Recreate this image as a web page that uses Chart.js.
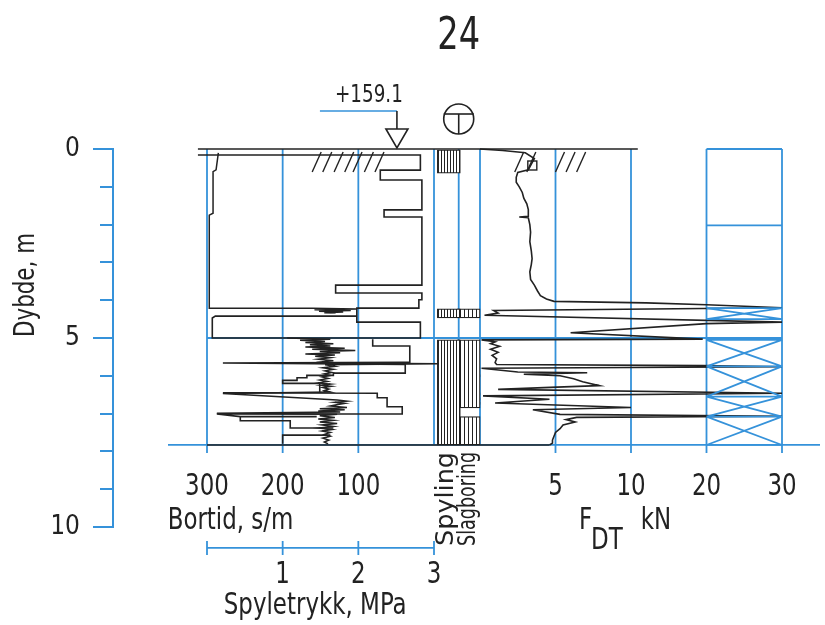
<!DOCTYPE html>
<html>
<head>
<meta charset="utf-8">
<script src="https://cdn.jsdelivr.net/npm/chart.js@4.4.0/dist/chart.umd.min.js"></script>
<style>
  html, body { margin: 0; padding: 0; background: #fff; }
  #wrap { width: 825px; height: 625px; }
</style>
</head>
<body>
<div id="wrap"><canvas id="log" width="825" height="625"></canvas></div>
<script>
const boreDepth = 7.83;          // m, end of sounding
const waterLevel = '+159.1';
const pageNo = '24';

// drilling time, s/m (null = pen up)
const bortidDepth = [0.16,0.16,0.56,0.56,0.82,0.82,1.61,1.61,1.80,1.80,3.60,3.60,3.81,3.81,3.99,3.99,4.21,4.21,4.42,4.58,4.58,5.00,5.00,4.47,4.42,4.42, null,
  5.03,5.21,5.21,5.64,5.64,5.66,5.70,5.93,5.93,5.99,5.99,6.05,6.05,6.12,6.12,6.20,6.20,6.44,6.45,6.46,6.58,6.58,6.82,6.82,7.01,7.01,7.08,7.08, null,
  7.08,7.19,7.19,7.38,7.38, null,
  7.57,7.57,7.80];
const bortidValue = [312,18,18,71,71,16,16,66,66,16,16,130,130,16,16,20,20,102,102,102,18,18,293,293,289,102, null,
  81,81,32,32,41,279,38,38,133,133,168,168,181,181,200,200,151,151,279,75,75,62,62,42,42,287,256,155, null,
  256,256,190,190,133, null,
  137,200,200];

// flushing pressure, MPa
const spyleDepth = [0.10,0.55,0.60,1.70,1.75,4.21,4.21,4.23,4.25,4.27,4.29,4.31,4.33,4.34, null,
  5.00,5.03,5.06,5.09,5.12,5.15,5.18,5.21,5.24,5.27,5.30,5.33,5.36,5.39,5.42,5.45,5.48,5.52,5.56,5.60,
  5.63,5.66,5.68,5.71,5.75,5.79,5.83,5.87,5.91,5.95,5.99,6.03,6.07,6.11,6.15,6.19,6.22,6.25,6.28,6.31,
  6.35,6.39,6.43,6.47,6.64,6.67,6.70,6.73,6.76,6.80,6.84,6.87,6.90,6.93,6.96,6.99,7.02,7.06,7.10,7.14,
  7.18,7.22,7.26,7.30,7.34,7.38,7.42,7.46,7.50,7.55,7.60,7.65,7.70,7.75,7.80];
const spyleValue = [0.15,0.12,0.08,0.08,0.03,0.03,1.39,1.98,1.42,1.90,1.48,1.80,1.55,1.70, null,
  1.06,1.63,1.23,1.56,1.30,1.67,1.36,1.63,1.30,1.82,1.39,1.96,1.49,1.76,1.30,1.69,1.43,1.63,1.47,1.67,
  1.52,1.63,3.08,1.56,1.69,1.53,1.67,1.56,1.65,1.55,1.63,1.52,1.60,1.49,1.59,1.47,1.63,1.51,1.64,1.53,
  1.61,1.55,1.63,0.21,1.72,1.85,1.69,1.82,1.73,1.63,1.85,1.49,1.82,1.47,1.76,0.13,1.72,1.49,1.69,1.47,
  1.67,1.49,1.72,1.52,1.67,1.48,1.65,1.52,1.63,1.55,1.63,1.53,1.61,1.55,1.60];

// total penetration force F_DT, kN
const fdtDepth = [0,0.04,0.10,0.25,0.40,0.55,0.62,0.75,0.88,1.00,1.15,1.30,1.45,1.60,1.78,1.80,1.82,2.00,2.20,2.45,
  2.70,2.90,3.05,3.25,3.45,3.60,3.75,3.88,3.97,4.03,4.07,4.12,4.20,4.27,4.34,4.40,4.58,4.62,4.86,5.03,
  5.05,5.10,5.15,5.22,5.30,5.38,5.46,5.55,5.65,5.70,5.73,5.76,5.80,5.90,5.92,5.96,6.00,6.08,6.16,6.26,
  6.30,6.36,6.46,6.53,6.62,6.72,6.84,6.90,7.02,7.07,7.10,7.16,7.22,7.30,7.40,7.50,7.60,7.70,7.78,7.83];
const fdtForce = [0,1.5,3.0,3.6,3.4,3.2,2.5,2.4,2.4,2.6,2.8,2.9,3.1,3.2,3.2,2.6,3.2,3.3,3.35,3.3,
  3.4,3.45,3.4,3.3,3.35,3.6,3.8,4.0,4.4,4.9,12,20,30,0.9,1.2,0.3,30,20,6.0,19.5,
  0.1,1.0,0.7,1.3,0.7,1.2,0.8,1.1,1.0,1.1,19.5,30,0.1,2.5,7.1,2.9,5.3,6.2,6.8,7.9,
  5.1,1.2,30,0.2,4.6,1.0,10,3.5,5.3,30,6.4,5.7,6.3,5.5,5.3,5.0,4.9,4.8,4.8,4.6];

// flushing / hammering intervals, m
const spylingFrom = [0, 4.23, 5.05];
const spylingTo   = [0.64, 4.47, 7.83];
const slagFrom = [4.23, 5.05, 7.08];
const slagTo   = [4.47, 6.85, 7.83];
const slagBandFrom = [5.78, 5.97, 6.45, 6.58, 6.70];
const slagBandTo   = [5.81, 6.03, 6.51, 6.64, 6.76];

// right-hand column: dividing lines and crossed intervals, m
const boxLines = [0, 2.02, 4.21, 4.50, 5.05, 5.75, 6.55, 7.08, 7.83];
const crossFrom = [4.21, 5.05, 5.75, 6.55, 7.08];
const crossTo   = [4.50, 5.75, 6.55, 7.08, 7.83];

// axis ticks
const depthTicks = [0, 5, 10];
const bortidTicks = [300, 200, 100];
const spyleTicks = [1, 2, 3];
const fdtTicks = [5, 10, 20, 30];

// ---- look ----
const BLUE = '#3592da';
const INK = '#222';
const FONT = '"Liberation Sans Narrow", "DejaVu Sans Condensed", sans-serif';
const SQUEEZE = 0.85;   // the drawing lettering is narrower than the installed fonts
const AREA = { left: 113, right: 825, top: 149, bottom: 527 };

// F_DT: 0-10 kN at full width, 10-30 kN squeezed to half
class FdtScale extends Chart.LinearScale {
  getPixelForValue(v) {
    if (v === null || v === undefined) return NaN;
    return super.getPixelForValue(v > 10 ? 10 + (v - 10) / 2 : v);
  }
}
FdtScale.id = 'fdt';
FdtScale.defaults = Chart.LinearScale.defaults;
Chart.register(FdtScale);

// min/max so that value a lands on pixel pa and b on pb
function spanFor(a, pa, b, pb) {
  const k = (pb - pa) / (b - a);
  const atLeft = a + (AREA.left - pa) / k;
  const atRight = a + (AREA.right - pa) / k;
  return k > 0 ? { min: atLeft, max: atRight, reverse: false }
               : { min: atRight, max: atLeft, reverse: true };
}

const ctx = document.getElementById('log').getContext('2d');

function hatchPattern(period) {
  const c = document.createElement('canvas');
  c.width = period; c.height = 4;
  const g = c.getContext('2d');
  g.fillStyle = '#fff'; g.fillRect(0, 0, period, 4);
  g.fillStyle = INK; g.fillRect(0, 0, 1, 4);
  return ctx.createPattern(c, 'repeat');
}

const pts = (ds, xs) => ds.map((d, i) => ({ x: xs[i], y: d }));
const bars = (col, from, to) => from.map((a, i) => ({ x: col, y: [a, to[i]] }));

const boxPoints = [];
boxLines.forEach(d => boxPoints.push({ x: 20, y: d }, { x: 30, y: d }, { x: null, y: null }));
crossFrom.forEach((a, i) => {
  const b = crossTo[i];
  boxPoints.push({ x: 20, y: a }, { x: 30, y: b }, { x: null, y: null },
                 { x: 30, y: a }, { x: 20, y: b }, { x: null, y: null });
});

function label(c, str, x, y, size, align, rot, stretch) {
  c.save();
  c.translate(x, y);
  if (rot) c.rotate(rot);
  c.font = size + 'px ' + FONT;
  c.textAlign = align || 'center';
  c.textBaseline = 'middle';
  if (stretch) c.scale(stretch / c.measureText(str).width, 1);
  else c.scale(SQUEEZE, 1);
  c.fillStyle = INK;
  c.fillText(str, 0, 0);
  c.restore();
}

function seg(c, x1, y1, x2, y2) {
  c.beginPath(); c.moveTo(x1, y1); c.lineTo(x2, y2); c.stroke();
}

const logFrame = {
  id: 'logFrame',
  beforeDatasetsDraw(chart) {
    const c = chart.ctx, s = chart.scales;
    const bt = v => s.xBt.getPixelForValue(v);
    const fd = v => s.xF.getPixelForValue(v);
    const y0 = s.y.getPixelForValue(0);
    const yEnd = s.y.getPixelForValue(boreDepth);
    const yTick = yEnd + 8;
    c.save();
    c.strokeStyle = BLUE; c.lineWidth = 1.8;
    bortidTicks.forEach(v => seg(c, bt(v), y0, bt(v), yTick));
    fdtTicks.forEach(v => seg(c, fd(v), y0, fd(v), yTick));
    [bt(0), s.xCol.getPixelForValue(1.5), fd(0)].forEach(x => seg(c, x, y0, x, yEnd));
    seg(c, bt(300), s.y.getPixelForValue(5), fd(30), s.y.getPixelForValue(5));
    seg(c, bt(300) - 39, yEnd, fd(30) + 38, yEnd);

    // flushing pressure axis under the plot
    const sp = v => s.xSp.getPixelForValue(v);
    const ySp = yTick + 95;
    seg(c, sp(0), ySp, sp(3), ySp);
    [0].concat(spyleTicks).forEach(v => seg(c, sp(v), ySp - 7, sp(v), ySp + 7));
    c.restore();
  },
  afterDatasetsDraw(chart) {
    const c = chart.ctx, s = chart.scales;
    const bt = v => s.xBt.getPixelForValue(v);
    const sp = v => s.xSp.getPixelForValue(v);
    const fd = v => s.xF.getPixelForValue(v);
    const col = v => s.xCol.getPixelForValue(v);
    const y0 = s.y.getPixelForValue(0);
    const yEnd = s.y.getPixelForValue(boreDepth);
    c.save();
    c.strokeStyle = INK; c.lineWidth = 1.6;
    seg(c, bt(312), y0, fd(10.9), y0);
    seg(c, bt(300), yEnd, fd(4.6), yEnd);

    // terrain hatch
    c.lineWidth = 1.4;
    [161, 147, 132, 118, 107, 92, 78].forEach(v => seg(c, bt(v), y0 + 23, bt(v) + 9, y0 + 3));
    [2.3, 3.1, 5.0, 5.7, 6.4].forEach(v => seg(c, fd(v), y0 + 23, fd(v) + 9, y0 + 3));
    c.strokeRect(fd(3.1) + 1, y0 + 12, 9, 9);

    // water level marker
    const wx = bt(49);
    c.strokeStyle = BLUE; c.lineWidth = 1.6;
    seg(c, wx - 77, y0 - 38, wx, y0 - 38);
    c.strokeStyle = INK;
    seg(c, wx, y0 - 38, wx, y0 - 20);
    c.beginPath();
    c.moveTo(wx - 11, y0 - 20); c.lineTo(wx + 11, y0 - 20); c.lineTo(wx, y0 - 1); c.closePath();
    c.stroke();
    label(c, waterLevel, wx - 28, y0 - 53, 24);

    // boring symbol
    const cx = col(1.5), cy = y0 - 30;
    c.beginPath(); c.arc(cx, cy, 15, 0, Math.PI * 2); c.stroke();
    seg(c, cx - 15, cy - 5, cx + 15, cy - 5);
    seg(c, cx, cy - 5, cx, cy + 15);

    // longer major ticks on the depth axis
    c.strokeStyle = BLUE; c.lineWidth = 2;
    depthTicks.forEach(d => seg(c, s.y.left + 40, s.y.getPixelForValue(d), s.y.right - 13, s.y.getPixelForValue(d)));

    // texts
    const yLab = yEnd + 42;
    bortidTicks.forEach(v => label(c, String(v), bt(v), yLab, 30));
    fdtTicks.forEach(v => label(c, String(v), fd(v), yLab, 30));
    label(c, 'Bortid, s/m', bt(352), yLab + 34, 30, 'left');
    label(c, 'F', fd(7.0), yLab + 34, 30);
    label(c, 'DT', fd(8.4), yLab + 54, 30);
    label(c, 'kN', fd(13.3), yLab + 34, 30);
    const ySp = yEnd + 103;
    spyleTicks.forEach(v => label(c, String(v), sp(v), ySp + 27, 30));
    label(c, 'Spyletrykk, MPa', sp(1.43), ySp + 58, 30);
    label(c, 'Spyling', col(1) - 2, yEnd + 101, 24, 'left', -Math.PI / 2, 94);
    label(c, 'Slagboring', col(2), yEnd + 101, 24, 'left', -Math.PI / 2, 94);
    label(c, 'Dybde, m', 27, 285, 28, 'center', -Math.PI / 2);
    label(c, pageNo, col(1.5), 38, 44);
    c.restore();
  }
};

const line = (data, axis, width, color) => ({
  type: 'line', data: data, xAxisID: axis, yAxisID: 'y',
  borderColor: color || INK, borderWidth: width, pointRadius: 0,
  tension: 0, fill: false, clip: false, spanGaps: false
});
const hatchBar = (data, period) => ({
  type: 'bar', data: data, xAxisID: 'xCol', yAxisID: 'y',
  backgroundColor: hatchPattern(period), borderColor: INK, borderWidth: 1.2,
  borderSkipped: false, barThickness: 23, grouped: false, clip: false
});

const xHidden = span => Object.assign({ type: 'linear', display: false }, span);

new Chart(ctx, {
  type: 'line',
  data: {
    datasets: [
      line(boxPoints, 'xF', 1.8, BLUE),
      hatchBar(bars(1, spylingFrom, spylingTo), 3),
      hatchBar(bars(2, slagFrom, slagTo), 4),
      Object.assign(hatchBar(bars(2, slagBandFrom, slagBandTo), 4), { backgroundColor: INK }),
      line(pts(bortidDepth, bortidValue), 'xBt', 1.6),
      line(pts(spyleDepth, spyleValue), 'xSp', 1.5),
      line(pts(fdtDepth, fdtForce), 'xF', 1.6)
    ]
  },
  options: {
    responsive: false,
    animation: false,
    events: [],
    layout: { padding: { left: AREA.left - 60, right: 825 - AREA.right, top: AREA.top, bottom: 625 - AREA.bottom } },
    plugins: { legend: { display: false }, tooltip: { enabled: false } },
    scales: {
      xBt: xHidden(spanFor(300, 207, 0, 434)),
      xSp: xHidden(spanFor(0, 207, 3, 434)),
      xCol: xHidden(spanFor(1, 445.5, 2, 468.5)),
      xF: Object.assign(xHidden(spanFor(0, 480, 20, 782)), { type: 'fdt' }),
      y: {
        type: 'linear', position: 'left', reverse: true, min: 0, max: 10,
        afterFit(scale) { scale.width = 60; },
        border: { color: BLUE, width: 2 },
        grid: { drawOnChartArea: false, color: BLUE, lineWidth: 2, tickLength: 13 },
        ticks: {
          stepSize: 1, autoSkip: false, padding: 20, color: INK,
          font: { size: 26, family: FONT },
          callback: v => depthTicks.includes(v) ? String(v) : ''
        }
      }
    }
  },
  plugins: [logFrame]
});
</script>
</body>
</html>
